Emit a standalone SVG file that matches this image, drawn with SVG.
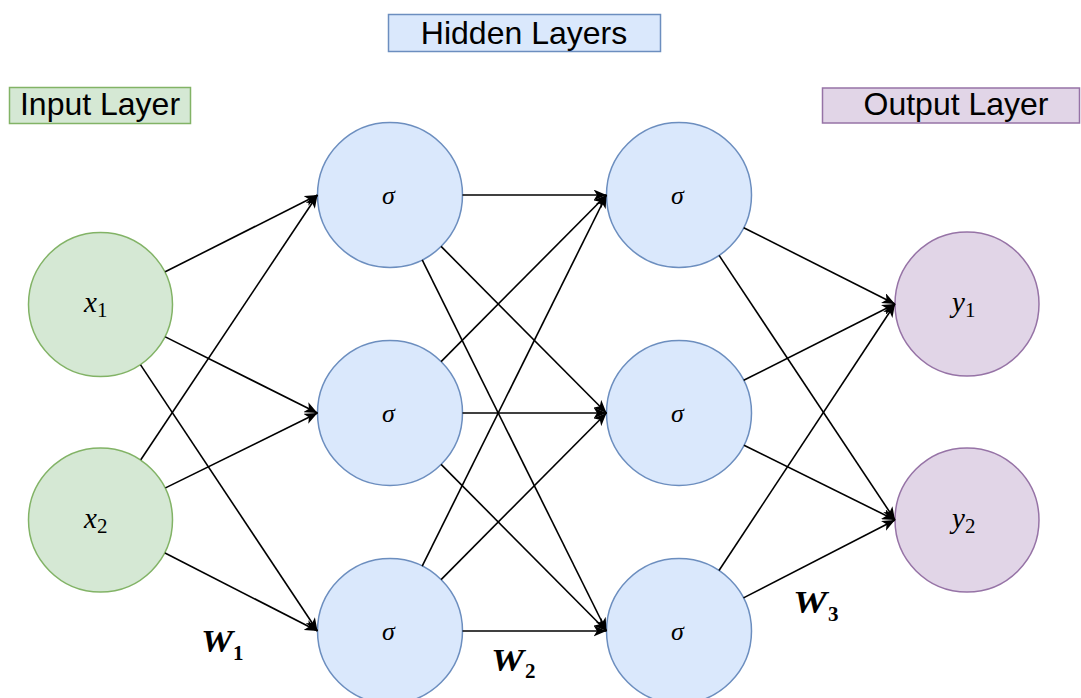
<svg xmlns="http://www.w3.org/2000/svg" width="1081" height="698" viewBox="0 0 1081 698">
  <style>
    .title { font-family: "Liberation Sans", Arial, sans-serif; font-size: 32px; fill: #000; }
    .n-in { fill: #d5e8d4; stroke: #82b366; stroke-width: 1.5; }
    .n-hid { fill: #dae8fc; stroke: #6c8ebf; stroke-width: 1.5; }
    .n-out { fill: #e1d5e7; stroke: #9673a6; stroke-width: 1.5; }
    .math { font-family: "Liberation Serif", "Times New Roman", serif; font-style: italic; font-size: 29px; fill: #000; }
    .sub { font-style: normal; font-size: 21px; }
    .sig { font-family: "Liberation Serif", "Times New Roman", serif; font-style: italic; font-size: 26px; fill: #000; text-anchor: middle; }
    .wlab { font-family: "Liberation Serif", "Times New Roman", serif; font-style: italic; font-weight: bold; font-size: 31px; fill: #000; }
    .wsub { font-family: "Liberation Serif", "Times New Roman", serif; font-weight: bold; font-size: 21px; fill: #000; }
    .edge { fill: none; stroke: #000; stroke-width: 1.6; marker-end: url(#arrow); }
  </style>
  <defs>
    <marker id="arrow" markerUnits="userSpaceOnUse" viewBox="0 0 13 11" refX="13" refY="5.5" markerWidth="13" markerHeight="11" orient="auto">
      <path d="M0,0 L13,5.5 L0,11 L3.5,5.5 Z" fill="#000"/>
    </marker>
  </defs>

  <rect width="1081" height="698" fill="#fff"/>

  <!-- layer captions -->
  <g id="label-input">
    <rect x="9.5" y="87.5" width="181" height="36" fill="#d5e8d4" stroke="#82b366" stroke-width="1.5"/>
    <text class="title" x="100" y="115" text-anchor="middle">Input Layer</text>
  </g>
  <g id="label-hidden">
    <rect x="388.5" y="14.5" width="272" height="37" fill="#dae8fc" stroke="#6c8ebf" stroke-width="1.5"/>
    <text class="title" x="524" y="44" text-anchor="middle">Hidden Layers</text>
  </g>
  <g id="label-output">
    <rect x="822.5" y="88" width="257" height="35" fill="#e1d5e7" stroke="#9673a6" stroke-width="1.5"/>
    <text class="title" x="956" y="115" text-anchor="middle">Output Layer</text>
  </g>

  <!-- input neurons -->
  <g id="x1">
    <circle class="n-in" cx="100.5" cy="304.5" r="72"/>
    <text class="math" x="84" y="312">x<tspan class="sub" dy="5">1</tspan></text>
  </g>
  <g id="x2">
    <circle class="n-in" cx="100.5" cy="520" r="72"/>
    <text class="math" x="84" y="527.5">x<tspan class="sub" dy="5">2</tspan></text>
  </g>

  <!-- first hidden layer -->
  <g id="h1-1">
    <circle class="n-hid" cx="390" cy="195" r="72.5"/>
    <text class="sig" x="388.5" y="204">σ</text>
  </g>
  <g id="h1-2">
    <circle class="n-hid" cx="390" cy="413" r="72.5"/>
    <text class="sig" x="388.5" y="422">σ</text>
  </g>
  <g id="h1-3">
    <circle class="n-hid" cx="390" cy="631" r="72.5"/>
    <text class="sig" x="388.5" y="640">σ</text>
  </g>

  <!-- second hidden layer -->
  <g id="h2-1">
    <circle class="n-hid" cx="679" cy="195" r="72.5"/>
    <text class="sig" x="677.5" y="204">σ</text>
  </g>
  <g id="h2-2">
    <circle class="n-hid" cx="679" cy="413" r="72.5"/>
    <text class="sig" x="677.5" y="422">σ</text>
  </g>
  <g id="h2-3">
    <circle class="n-hid" cx="679" cy="631" r="72.5"/>
    <text class="sig" x="677.5" y="640">σ</text>
  </g>

  <!-- output neurons -->
  <g id="y1">
    <circle class="n-out" cx="967" cy="304" r="72"/>
    <text class="math" x="952" y="312">y<tspan class="sub" dy="5">1</tspan></text>
  </g>
  <g id="y2">
    <circle class="n-out" cx="967" cy="520" r="72"/>
    <text class="math" x="952" y="528">y<tspan class="sub" dy="5">2</tspan></text>
  </g>

  <!-- weighted connections -->
  <g id="connectors">
    <!-- input -> hidden 1 -->
    <path class="edge" d="M165.2,271.8 L317.5,195"/>
    <path class="edge" d="M165.3,336.9 L317.5,413"/>
    <path class="edge" d="M140.6,364.9 L317.5,631"/>
    <path class="edge" d="M140.8,459.7 L317.5,195"/>
    <path class="edge" d="M165.5,487.9 L317.5,413"/>
    <path class="edge" d="M165.0,553.0 L317.5,631"/>
    <!-- hidden 1 -> hidden 2 -->
    <path class="edge" d="M462.5,195 L606.5,195"/>
    <path class="edge" d="M441.1,246.4 L606.5,413"/>
    <path class="edge" d="M422.2,259.9 L606.5,631"/>
    <path class="edge" d="M441.1,361.6 L606.5,195"/>
    <path class="edge" d="M462.5,413 L606.5,413"/>
    <path class="edge" d="M441.1,464.4 L606.5,631"/>
    <path class="edge" d="M422.2,566.1 L606.5,195"/>
    <path class="edge" d="M441.1,579.6 L606.5,413"/>
    <path class="edge" d="M462.5,631 L606.5,631"/>
    <!-- hidden 2 -> output -->
    <path class="edge" d="M743.7,227.7 L895,304"/>
    <path class="edge" d="M719.1,255.4 L895,520"/>
    <path class="edge" d="M743.7,380.3 L895,304"/>
    <path class="edge" d="M744.0,445.2 L895,520"/>
    <path class="edge" d="M719.0,570.5 L895,304"/>
    <path class="edge" d="M743.5,597.9 L895,520"/>
  </g>

  <!-- weight matrix labels -->
  <g id="weights">
    <text class="wlab" x="201" y="652" textLength="32" lengthAdjust="spacingAndGlyphs">W</text>
    <text class="wsub" x="233" y="660">1</text>
    <text class="wlab" x="491" y="671" textLength="33" lengthAdjust="spacingAndGlyphs">W</text>
    <text class="wsub" x="525" y="678">2</text>
    <text class="wlab" x="793" y="613" textLength="34" lengthAdjust="spacingAndGlyphs">W</text>
    <text class="wsub" x="828" y="621">3</text>
  </g>
</svg>
